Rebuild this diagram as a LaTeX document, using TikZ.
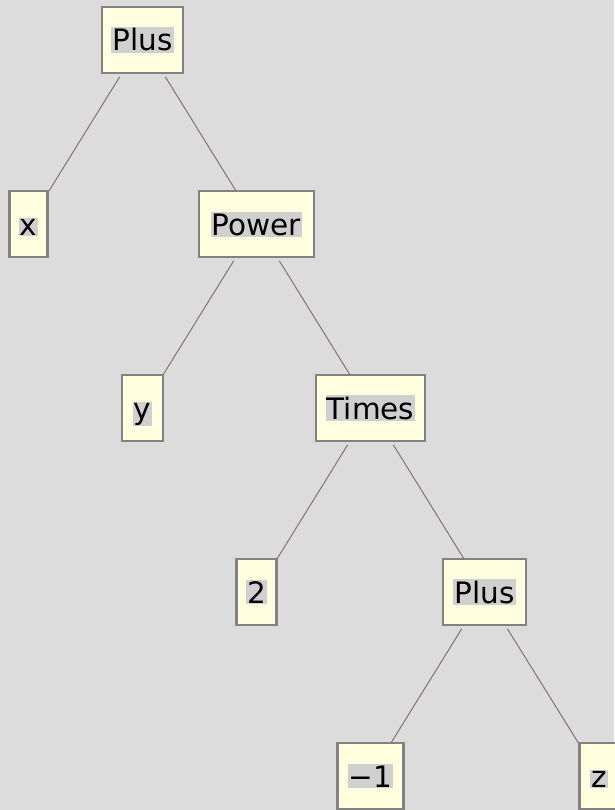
\documentclass[tikz,border=0pt]{standalone}
\usepackage{fontspec}
\setmainfont{DejaVu Sans}
\usetikzlibrary{calc}
\definecolor{bg}{RGB}{220,220,220}
\definecolor{boxfill}{RGB}{255,255,224}
\definecolor{boxline}{RGB}{130,130,130}
\definecolor{hl}{RGB}{208,208,208}
\definecolor{edgec}{RGB}{135,112,112}
\newcommand\treeconn[2]{\draw[tedge] ($(#1.center)!0.2!(#2.center)$) -- ($(#1.center)!0.82!(#2.center)$);}
\begin{document}
\begin{tikzpicture}[x=1pt,y=-1pt,
  tbox/.style={draw=boxline, fill=boxfill, line width=2.4pt, minimum height=66pt, inner sep=0pt},
  tlbl/.style={anchor=base, fill=hl, inner sep=1.2pt, text=black, font=\fontsize{29.5}{34}\selectfont},
  tedge/.style={draw=edgec, line width=1pt}]
\fill[bg] (0,0) rectangle (614,810);
\useasboundingbox (0,0) rectangle (614,810);

\node[tbox, minimum width=81pt]  (plusA) at (142.5,40) {};
\node[tbox, minimum width=38pt]  (xN)    at (28.5,224) {};
\node[tbox, minimum width=115pt] (power) at (256.5,224) {};
\node[tbox, minimum width=41pt]  (yN)    at (142.5,408) {};
\node[tbox, minimum width=109pt] (times) at (370.5,408) {};
\node[tbox, minimum width=40pt]  (two)   at (256.5,592) {};
\node[tbox, minimum width=83pt]  (plusB) at (484.5,592) {};
\node[tbox, minimum width=66pt]  (mone)  at (370.5,776) {};
\node[tbox, minimum width=39pt]  (zN)    at (599,776) {};

\node[tlbl] (plusAt) at ([yshift=-11pt]plusA.center) {Plus};
\node[tlbl] (xNt)    at ([yshift=-11pt]xN.center) {x};
\node[tlbl] (powert) at ([yshift=-11pt]power.center) {Power};
\node[tlbl] (yNt)    at ([yshift=-11pt]yN.center) {y};
\node[tlbl] (timest) at ([yshift=-11pt]times.center) {Times};
\node[tlbl] (twot)   at ([yshift=-11pt]two.center) {2};
\node[tlbl] (plusBt) at ([yshift=-11pt]plusB.center) {Plus};
\node[tlbl] (monet)  at ([yshift=-11pt]mone.center) {−1};
\node[tlbl] (zNt)    at ([yshift=-11pt]zN.center) {z};

\treeconn{plusA}{xN}
\treeconn{plusA}{power}
\treeconn{power}{yN}
\treeconn{power}{times}
\treeconn{times}{two}
\treeconn{times}{plusB}
\treeconn{plusB}{mone}
\treeconn{plusB}{zN}
\end{tikzpicture}
\end{document}
